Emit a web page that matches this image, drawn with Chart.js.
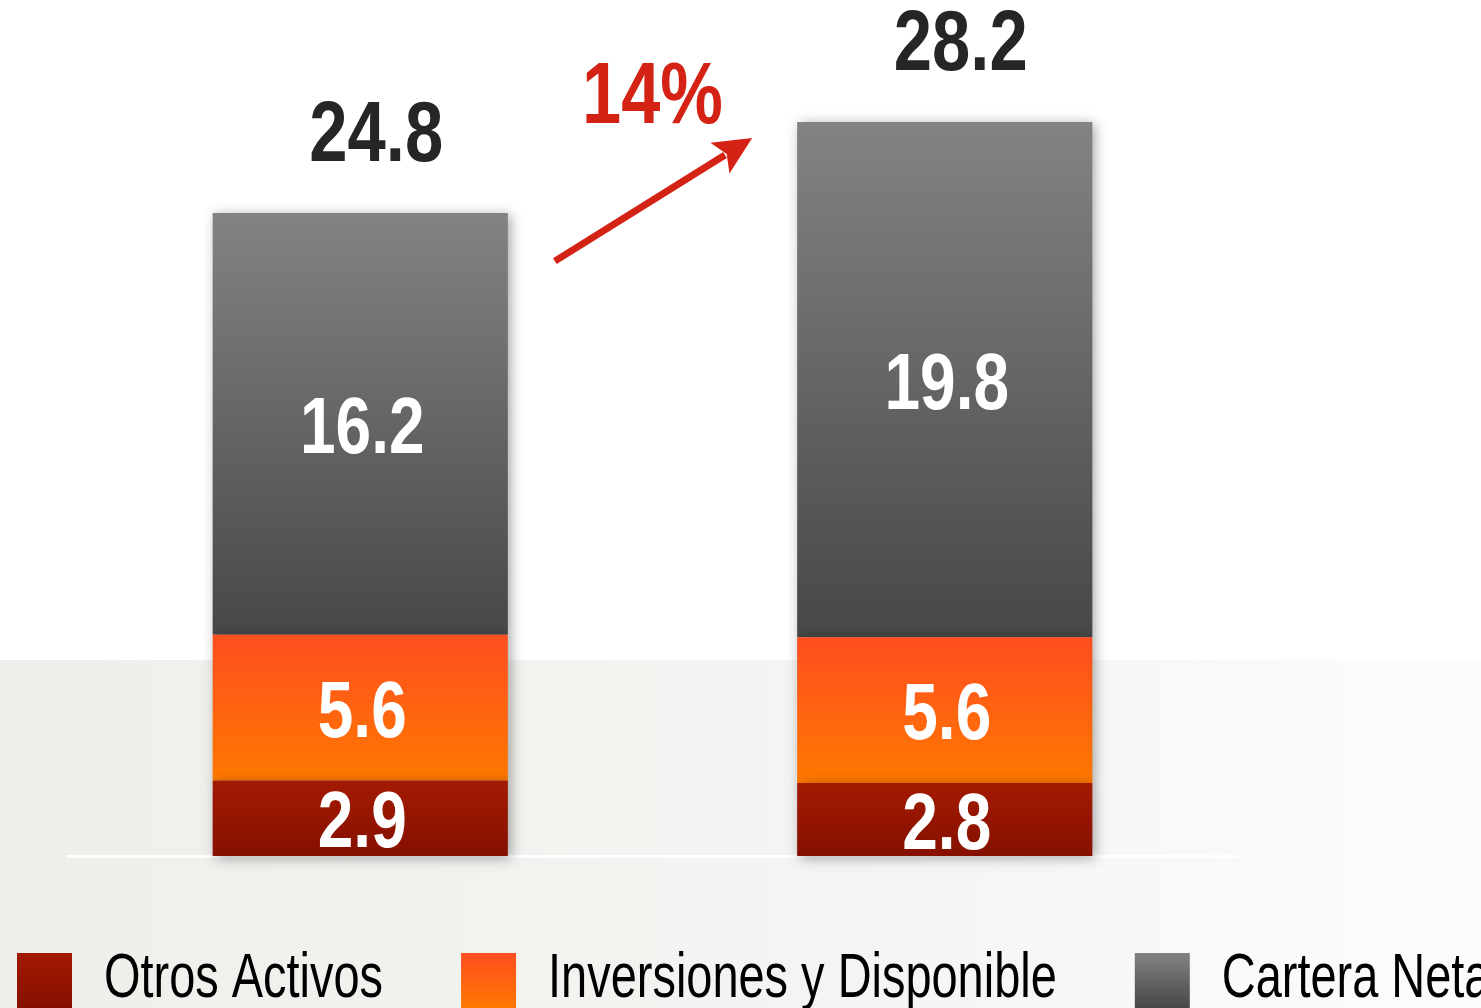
<!DOCTYPE html>
<html>
<head>
<meta charset="utf-8">
<script src="https://cdn.jsdelivr.net/npm/chart.js@4.4.0/dist/chart.umd.min.js"></script>
<style>
  html, body { margin: 0; padding: 0; background: #fff; }
  #wrap { width: 1481px; height: 1008px; position: relative; }
</style>
</head>
<body>
<div id="wrap"><canvas id="chart"></canvas></div>
<script>
// Values
const periods = ["Anterior", "Actual"];
const otrosActivos = [2.9, 2.8];
const inversiones = [5.6, 5.6];
const carteraNeta = [16.2, 19.8];
const totals = [24.8, 28.2];
const growthLabel = "14%";
const seriesNames = ["Otros Activos", "Inversiones y Disponible", "Cartera Neta"];

const seriesValues = [otrosActivos, inversiones, carteraNeta];
const FONT = '"Liberation Sans", Arial, sans-serif';
// the original uses a condensed face, so text is squeezed horizontally
const BOLD_SQUEEZE = 0.8;
const LEGEND_SQUEEZE = 0.745;

// top and bottom colour of each series gradient
const segColors = [
  ["#a31a02", "#851000"],
  ["#ff4e20", "#ff7800"],
  ["#838383", "#474747"]
];

// Vertical gradient running from the top to the bottom of one segment
function segment_gradient(context) {
  const chart = context.chart;
  const colors = segColors[context.datasetIndex];
  const y = chart.scales.y;
  if (!chart.chartArea || !y || context.dataIndex === undefined) return colors[1];
  let base = 0;
  for (let d = 0; d < context.datasetIndex; d++) base += seriesValues[d][context.dataIndex];
  const top = base + seriesValues[context.datasetIndex][context.dataIndex];
  const y0 = y.getPixelForValue(top);
  const y1 = y.getPixelForValue(base);
  if (!isFinite(y0) || !isFinite(y1) || y0 === y1) return colors[1];
  const g = chart.ctx.createLinearGradient(0, y0, 0, y1);
  g.addColorStop(0, colors[0]);
  g.addColorStop(1, colors[1]);
  return g;
}

// Writes text squeezed horizontally around x
function squeezed_text(ctx, text, x, y, sx) {
  ctx.save();
  ctx.translate(x, y);
  ctx.scale(sx, 1);
  ctx.fillText(text, 0, 0);
  ctx.restore();
}

// White page with the light grey floor behind the lower part of the bars
const backdrop = {
  id: "backdrop",
  beforeDraw(chart) {
    const { ctx, width, height } = chart;
    ctx.save();
    ctx.fillStyle = "#ffffff";
    ctx.fillRect(0, 0, width, height);
    const g = ctx.createLinearGradient(0, 0, width, 0);
    g.addColorStop(0, "#eeeeeb");
    g.addColorStop(0.55, "#f4f4f2");
    g.addColorStop(1, "#fcfcfc");
    ctx.fillStyle = g;
    ctx.fillRect(0, 660, width, height - 660);
    ctx.restore();
  }
};

// Soft drop shadow on the bars
const barShadow = {
  id: "barShadow",
  beforeDatasetsDraw(chart) {
    const ctx = chart.ctx;
    ctx.save();
    ctx.shadowColor = "rgba(0,0,0,0.35)";
    ctx.shadowBlur = 12;
    ctx.shadowOffsetX = 3;
    ctx.shadowOffsetY = 2;
  },
  afterDatasetsDraw(chart) {
    chart.ctx.restore();
  }
};

// Segment values, totals and the growth arrow
const valueLabels = {
  id: "valueLabels",
  afterDatasetsDraw(chart) {
    const ctx = chart.ctx;
    ctx.save();
    ctx.textAlign = "center";
    ctx.textBaseline = "alphabetic";
    ctx.fillStyle = "#ffffff";
    ctx.font = "bold 80px " + FONT;
    chart.data.datasets.forEach((ds, di) => {
      chart.getDatasetMeta(di).data.forEach((bar, i) => {
        const mid = (bar.y + bar.base) / 2;
        squeezed_text(ctx, ds.data[i].toFixed(1), bar.x + 2, mid + 29, BOLD_SQUEEZE);
      });
    });

    const tops = chart.getDatasetMeta(chart.data.datasets.length - 1).data;
    ctx.fillStyle = "#262626";
    ctx.font = "bold 86px " + FONT;
    tops.forEach((bar, i) => squeezed_text(ctx, totals[i].toFixed(1), bar.x + 16, bar.y - 52, BOLD_SQUEEZE));

    // arrow between the two bars
    const b1 = tops[0], b2 = tops[1];
    const sx = b1.x + b1.width / 2 + 47, sy = b1.y + 48;
    const ex = b2.x - b2.width / 2 - 45, ey = b2.y + 16;
    const ang = Math.atan2(ey - sy, ex - sx);
    const headLen = 38, headHalf = 18;
    ctx.strokeStyle = "#d42314";
    ctx.fillStyle = "#d42314";
    ctx.lineWidth = 7;
    ctx.beginPath();
    ctx.moveTo(sx, sy);
    ctx.lineTo(ex - Math.cos(ang) * (headLen - 6), ey - Math.sin(ang) * (headLen - 6));
    ctx.stroke();
    ctx.beginPath();
    ctx.moveTo(ex, ey);
    const bx = ex - Math.cos(ang) * headLen, by = ey - Math.sin(ang) * headLen;
    ctx.lineTo(bx + Math.sin(ang) * headHalf, by - Math.cos(ang) * headHalf);
    ctx.lineTo(ex - Math.cos(ang) * (headLen - 8), ey - Math.sin(ang) * (headLen - 8));
    ctx.lineTo(bx - Math.sin(ang) * headHalf, by + Math.cos(ang) * headHalf);
    ctx.closePath();
    ctx.fill();

    ctx.font = "bold 88px " + FONT;
    squeezed_text(ctx, growthLabel, (sx + ex) / 2 - 1, ey - 15, BOLD_SQUEEZE);
    ctx.restore();
  }
};

// Legend along the bottom edge with gradient boxes
const bottomLegend = {
  id: "bottomLegend",
  afterDraw(chart) {
    const ctx = chart.ctx;
    let x = 17;
    ctx.save();
    ctx.font = "63px " + FONT;
    ctx.textBaseline = "alphabetic";
    ctx.textAlign = "left";
    seriesNames.forEach((name, i) => {
      const g = ctx.createLinearGradient(0, 953, 0, 1008);
      g.addColorStop(0, segColors[i][0]);
      g.addColorStop(1, segColors[i][1]);
      ctx.fillStyle = g;
      ctx.fillRect(x, 953, 55, 60);
      x += 55 + 32;
      ctx.fillStyle = "#000000";
      squeezed_text(ctx, name, x, 997, LEGEND_SQUEEZE);
      x += ctx.measureText(name).width * LEGEND_SQUEEZE + 78;
    });
    ctx.restore();
  }
};

const canvas = document.getElementById("chart");
const chart = new Chart(canvas.getContext("2d"), {
  type: "bar",
  data: {
    labels: periods,
    datasets: seriesNames.map((name, i) => ({
      label: name,
      data: seriesValues[i],
      backgroundColor: segment_gradient,
      borderWidth: 0,
      clip: false
    }))
  },
  options: {
    responsive: true,
    maintainAspectRatio: false,
    animation: false,
    layout: { padding: { left: 68, right: 244, top: 122, bottom: 152 } },
    datasets: { bar: { categoryPercentage: 1, barPercentage: 0.505 } },
    plugins: { legend: { display: false }, tooltip: { enabled: false } },
    scales: {
      x: {
        stacked: true,
        grid: { display: false, drawTicks: false },
        ticks: { display: false },
        border: { display: true, color: "#ffffff", width: 3 }
      },
      y: { stacked: true, display: false, min: 0, max: Math.max(...totals) }
    }
  },
  plugins: [backdrop, barShadow, valueLabels, bottomLegend]
});
</script>
</body>
</html>
